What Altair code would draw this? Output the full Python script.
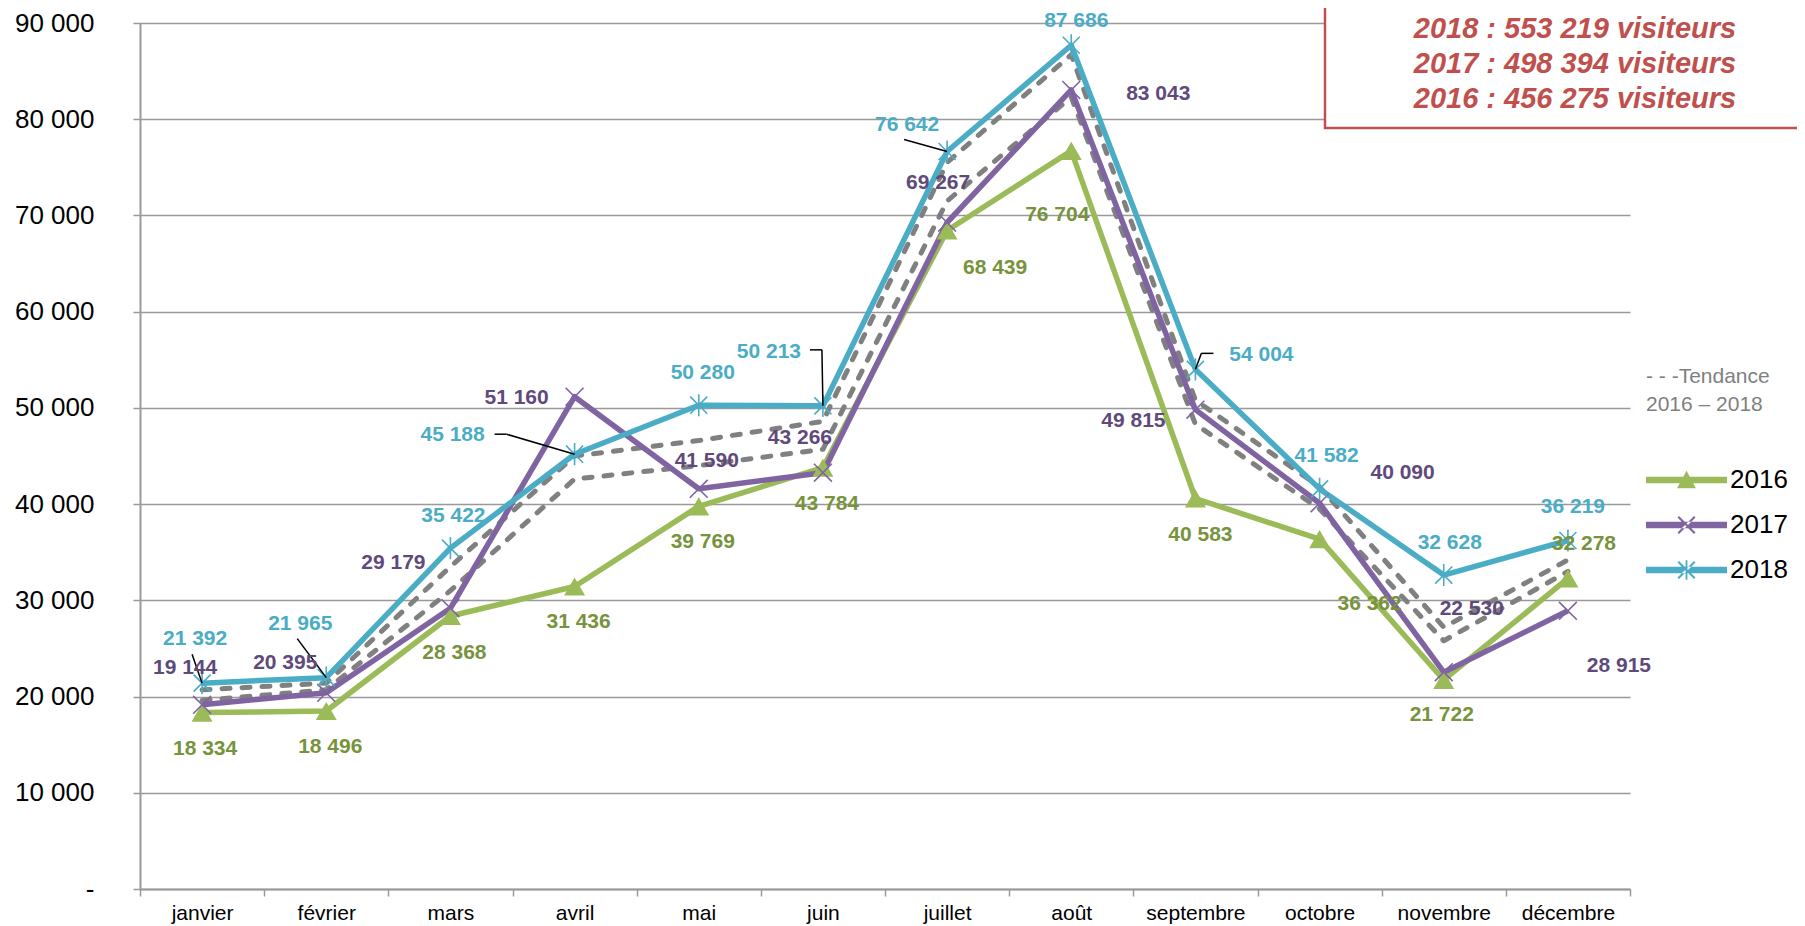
import altair as alt
import pandas as pd

# ---------------- data ----------------
months = ["janvier", "février", "mars", "avril", "mai", "juin", "juillet",
          "août", "septembre", "octobre", "novembre", "décembre"]
v2016 = [18334, 18496, 28368, 31436, 39769, 43784, 68439, 76704, 40583, 36362, 21722, 32278]
v2017 = [19144, 20395, 29179, 51160, 41590, 43266, 69267, 83043, 49815, 40090, 22530, 28915]
v2018 = [21392, 21965, 35422, 45188, 50280, 50213, 76642, 87686, 54004, 41582, 32628, 36219]
# the two grey dashed "Tendance 2016 – 2018" lines
trend_upper = [20700, 21400, 33500, 45000, 46600, 48600, 75500, 86700, 50800, 41800, 27200, 34200]
trend_lower = [19600, 20700, 31000, 42600, 44000, 45700, 71500, 82300, 48300, 39500, 25800, 33000]

series_names = ["2016", "2017", "2018"]
box_lines = ["2018 : 553 219 visiteurs", "2017 : 498 394 visiteurs", "2016 : 456 275 visiteurs"]
legend_title = ["- - -Tendance", "2016 – 2018"]
y_ticks = [0, 10000, 20000, 30000, 40000, 50000, 60000, 70000, 80000, 90000]

# ---------------- styles ----------------
FONT = "Liberation Sans"
line_colors = {"2016": "#9BBB59", "2017": "#8064A2", "2018": "#4BACC6"}
label_colors = {"2016": "#77933C", "2017": "#604A7B", "2018": "#4BACC6"}
# label offsets (px) relative to each point
label_offsets = {
    "2016": [(3, 36), (4, 36), (4, 37), (4, 35), (4, 36), (4, 36), (48, 38), (-14, 64),
             (5, 36), (50, 65), (-2, 35), (16, -34)],
    "2017": [(-17, -37), (-41, -30), (-57, -45), (-58, 1), (8, -28), (-23, -35), (-9, -39),
             (87, 4), (-62, 11), (83, -30), (28, -63), (51, 55)],
    "2018": [(-7, -44), (-26, -54), (3, -32), (-122, -19), (4, -32), (-54, -54), (-40, -27),
             (5, -24), (66, -14), (7, -33), (6, -32), (5, -33)],
}
# leader lines: (series, month index, list of segments (x1, y1, x2, y2) in px from the point)
leaders = [
    ("2018", 0, [(0, 0, -10, -29)]),
    ("2018", 1, [(0, 0, -29, -39)]),
    ("2018", 3, [(0, 0, -68, -20), (-68, -20, -80, -20)]),
    ("2018", 5, [(0, 0, -1, -56), (-1, -56, -13, -56)]),
    ("2018", 6, [(0, 0, -43, -12)]),
    ("2018", 8, [(0, 0, 6, -16), (6, -16, 18, -16)]),
]

rows = []
for name, vals in zip(series_names + ["tA", "tB"], [v2016, v2017, v2018, trend_upper, trend_lower]):
    for m, v in zip(months, vals):
        rows.append({"month": m, "value": v, "series": name,
                     "label": f"{v:,}".replace(",", " ")})
df = pd.DataFrame(rows)

GRID = "#999999"
x_enc = alt.X("month:N", sort=months,
              scale=alt.Scale(domain=months, paddingInner=0, paddingOuter=0),
              axis=alt.Axis(title=None, labelAngle=0, labelFontSize=21, labelFont=FONT,
                            labelColor="black", tickBand="extent", tickSize=7,
                            tickColor=GRID, tickWidth=1.5, domainColor=GRID, domainWidth=2,
                            labelPadding=6, grid=False))
y_enc = alt.Y("value:Q", scale=alt.Scale(domain=[0, 90000], nice=False, zero=True),
              axis=alt.Axis(title=None, values=y_ticks, labelFontSize=26, labelFont=FONT,
                            labelColor="black", tickSize=7, tickColor=GRID, tickWidth=1.5,
                            domainColor=GRID, domainWidth=2, gridColor=GRID, gridWidth=1.5,
                            labelPadding=39,
                            labelExpr="datum.value == 0 ? '-\u00a0\u00a0' : replace(format(datum.value, ','), ',', ' ')"))

layers = []

# trend dashed lines
for t in ["tA", "tB"]:
    layers.append(alt.Chart().mark_line(color="#808080", strokeWidth=5, strokeDash=[8, 12],
                                         strokeCap="round", strokeJoin="round")
                  .encode(x=x_enc, y=y_enc).transform_filter(alt.datum.series == t))

# series lines
for s in series_names:
    layers.append(alt.Chart().mark_line(color=line_colors[s], strokeWidth=5.5, strokeJoin="round")
                  .encode(x=x_enc, y=y_enc).transform_filter(alt.datum.series == s))

# markers
layers.append(alt.Chart().mark_point(shape="triangle-up", filled=True, size=440, opacity=1,
                                      color=line_colors["2016"])
              .encode(x=x_enc, y=y_enc).transform_filter(alt.datum.series == "2016"))
layers.append(alt.Chart().mark_point(shape="M-1,-1L1,1M-1,1L1,-1", filled=False, size=320,
                                      opacity=1, strokeWidth=1.6, color=line_colors["2017"])
              .encode(x=x_enc, y=y_enc).transform_filter(alt.datum.series == "2017"))
layers.append(alt.Chart().mark_point(shape="M-1,-1L1,1M-1,1L1,-1M0,-1.3L0,1.3", filled=False,
                                      size=290, opacity=1, strokeWidth=1.6,
                                      color=line_colors["2018"])
              .encode(x=x_enc, y=y_enc).transform_filter(alt.datum.series == "2018"))

# leader lines
for s, i, segs in leaders:
    for (x1, y1, x2, y2) in segs:
        layers.append(alt.Chart().mark_rule(color="black", strokeWidth=1.5,
                                             xOffset=x1, yOffset=y1, x2Offset=x2, y2Offset=y2)
                      .encode(x=x_enc, x2="month:N", y=y_enc, y2="value:Q")
                      .transform_filter((alt.datum.series == s) & (alt.datum.month == months[i])))

# data labels
for s in series_names:
    for i, m in enumerate(months):
        dx, dy = label_offsets[s][i]
        layers.append(alt.Chart().mark_text(dx=dx, dy=dy, font=FONT, fontSize=21, fontWeight="bold",
                                             color=label_colors[s], align="center", baseline="middle")
                      .encode(x=x_enc, y=y_enc, text="label:N")
                      .transform_filter((alt.datum.series == s) & (alt.datum.month == m)))

# legend (line + marker symbols as custom paths)
line_p = "M-1,-0.22L4.4,-0.22L4.4,0.22L-1,0.22Z"
tri_p = "M1.7,-0.62L2.33,0.55L1.07,0.55Z"
x_p = ("M1.2,-0.6L2.3,0.5L2.2,0.6L1.1,-0.5Z"
       "M1.2,0.6L2.3,-0.5L2.2,-0.6L1.1,0.5Z")
star_p = x_p + "M1.64,-0.65L1.76,-0.65L1.76,0.65L1.64,0.65Z"
legend_paths = [line_p + tri_p, line_p + x_p, line_p + star_p]
leg = alt.Legend(orient="none", legendX=1506, legendY=343, title=legend_title,
                 titleFontSize=21, titleFontWeight="normal", titleColor="#7F7F7F", titleFont=FONT,
                 titleLineHeight=28, titlePadding=50, titleAnchor="start", titleAlign="left",
                 labelFontSize=26, labelFont=FONT, labelColor="black", symbolSize=900,
                 symbolStrokeWidth=0, rowPadding=17, labelOffset=54, padding=0,
                 symbolOpacity=1)
layers.append(alt.Chart().mark_point(filled=True, opacity=1)
              .encode(x=x_enc, y=y_enc,
                      color=alt.Color("series:N", scale=alt.Scale(domain=series_names,
                                      range=[line_colors[s] for s in series_names]), legend=leg),
                      shape=alt.Shape("series:N", scale=alt.Scale(domain=series_names,
                                      range=legend_paths), legend=leg))
              .transform_filter("false"))

# top-right box with totals
one = pd.DataFrame({"k": [0]})
box = alt.Chart(one).mark_rect(fill="white", stroke="#C0504D", strokeWidth=2.5).encode(
    x=alt.value(1185), x2=alt.value(1720), y=alt.value(-40), y2=alt.value(105))
box_text = alt.Chart(one).mark_text(font=FONT, fontSize=29, fontStyle="italic", fontWeight="bold",
                                    color="#C0504D", align="center", baseline="middle",
                                    lineHeight=35).encode(
    x=alt.value(1435), y=alt.value(6), text=alt.value(box_lines))

chart = alt.layer(*layers, box, box_text, data=df).properties(
    width=1490, height=866, autosize="none",
    padding={"left": 132, "top": 15, "right": 167, "bottom": 36},
).configure_view(stroke=None)

chart.save("out.html", embed_options={"renderer": "svg", "actions": False})
